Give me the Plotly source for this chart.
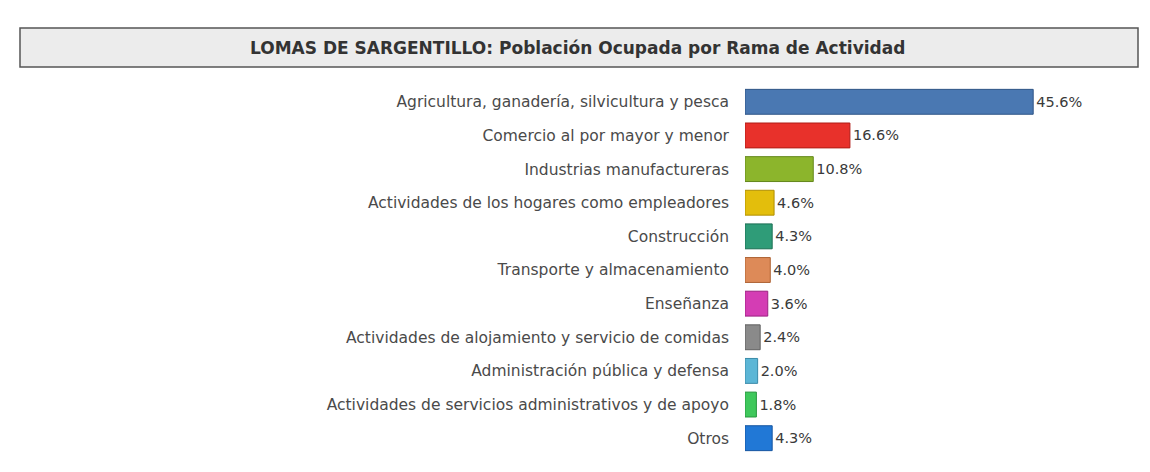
import plotly.graph_objects as go

categories = [
    "Agricultura, ganadería, silvicultura y pesca",
    "Comercio al por mayor y menor",
    "Industrias manufactureras",
    "Actividades de los hogares como empleadores",
    "Construcción",
    "Transporte y almacenamiento",
    "Enseñanza",
    "Actividades de alojamiento y servicio de comidas",
    "Administración pública y defensa",
    "Actividades de servicios administrativos y de apoyo",
    "Otros",
]
values = [45.6, 16.6, 10.8, 4.6, 4.3, 4.0, 3.6, 2.4, 2.0, 1.8, 4.3]
colors = ["#4a78b2", "#e8312b", "#8cb52c", "#e3be0c", "#2f9c78", "#dd8a58",
          "#d43db4", "#8a8a8a", "#5cb6d6", "#3fc85c", "#2178d6"]
edge_colors = ["#2f5586", "#b01c16", "#64871a", "#b08f00", "#1d6f54", "#ad6233",
               "#9c2282", "#5f5f5f", "#3a8aa8", "#27963f", "#1555a0"]
title_text = "LOMAS DE SARGENTILLO: Población Ocupada por Rama de Actividad"

W, H = 1150, 472
ml, mr, mt, mb = 745, 10, 85, 17
pw, ph = W - ml - mr, H - mt - mb

def px_x(x):
    return (x - ml) / pw

def px_y(y):
    return (H - mb - y) / ph

FONT = "DejaVu Sans, Verdana, sans-serif"

fig = go.Figure(go.Bar(
    x=values,
    y=categories,
    orientation="h",
    marker=dict(color=colors, line=dict(color=edge_colors, width=1)),
    width=0.74,
    text=[f"{v:.1f}%" for v in values],
    textposition="outside",
    textfont=dict(family=FONT, size=14.5, color="#3a3a3a"),
    cliponaxis=False,
    hoverinfo="skip",
))

fig.update_layout(
    width=W, height=H,
    margin=dict(l=ml, r=mr, t=mt, b=mb),
    paper_bgcolor="white",
    plot_bgcolor="white",
    showlegend=False,
    xaxis=dict(range=[0, pw / 6.32], visible=False, fixedrange=True),
    yaxis=dict(
        categoryorder="array", categoryarray=categories, autorange="reversed",
        showgrid=False, zeroline=False, showline=False, ticks="",
        ticklabelstandoff=15,
        tickfont=dict(family=FONT, size=15.5, color="#4a4a4a"),
    ),
    shapes=[dict(
        type="rect", xref="paper", yref="paper",
        x0=px_x(20), x1=px_x(1138), y0=px_y(67), y1=px_y(28),
        fillcolor="#ececec", line=dict(color="#555555", width=1.5), layer="below",
    )],
    annotations=[dict(
        text="<b>" + title_text + "</b>", xref="paper", yref="paper",
        x=px_x(577), y=px_y(47.5), showarrow=False, xanchor="center", yanchor="middle",
        font=dict(family=FONT, size=17, color="#333333"),
    )],
)

fig.write_html("out.html")
